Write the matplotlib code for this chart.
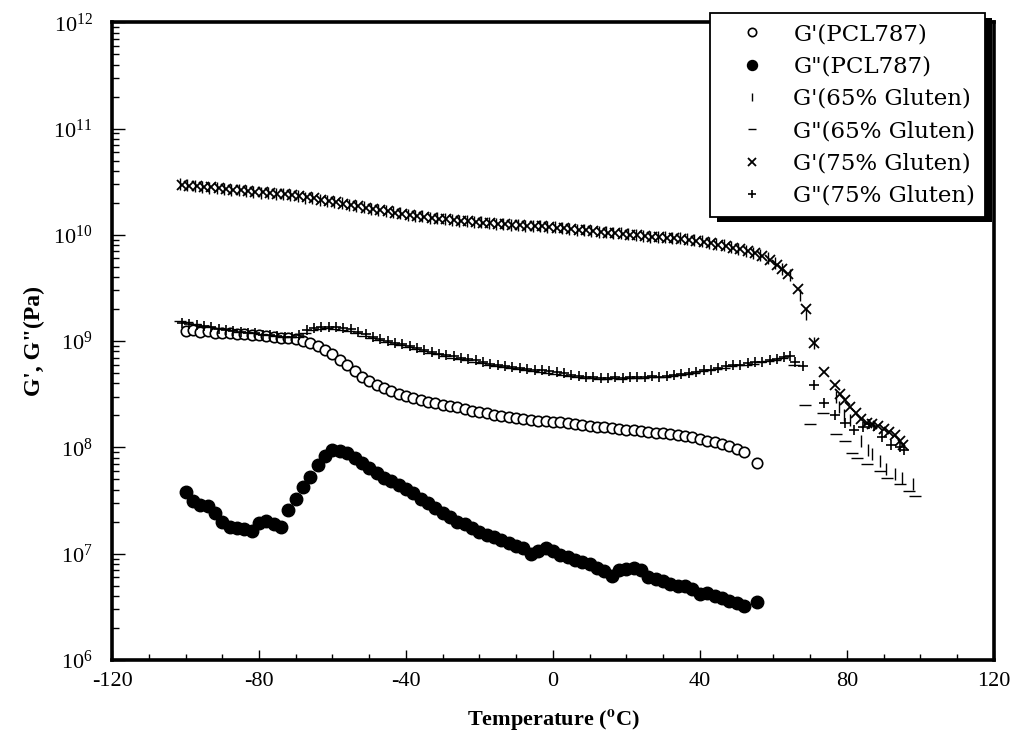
import matplotlib
matplotlib.use("Agg")
import matplotlib.pyplot as plt
from matplotlib.ticker import MultipleLocator, LogLocator, NullFormatter, FixedLocator
from matplotlib.patches import Rectangle
from matplotlib.transforms import IdentityTransform

plt.rcParams['font.family'] = ['Liberation Serif', 'DejaVu Serif']
plt.rcParams['mathtext.fontset'] = 'stix'
plt.rcParams['axes.unicode_minus'] = False

# ---------------- data ----------------
t_pcl_g1 = [-100, -98, -96, -94, -92, -90, -88, -86, -84, -82, -80, -78, -76, -74, -72, -70,
            -68, -66, -64, -62, -60, -58, -56, -54, -52, -50, -48, -46, -44, -42, -40, -38,
            -36, -34, -32, -30, -28, -26, -24, -22, -20, -18, -16, -14, -12, -10, -8, -6,
            -4, -2, 0, 2, 4, 6, 8, 10, 12, 14, 16, 18, 20, 22, 24, 26, 28, 30, 32, 34, 36,
            38, 40, 42, 44, 46, 48, 50, 52, 55.5]
g1_pcl = [1.25e9, 1.28e9, 1.22e9, 1.24e9, 1.20e9, 1.20e9, 1.18e9, 1.17e9, 1.16e9, 1.15e9,
          1.13e9, 1.12e9, 1.10e9, 1.08e9, 1.06e9, 1.04e9, 1.00e9, 9.6e8, 9.0e8, 8.3e8, 7.5e8,
          6.7e8, 5.9e8, 5.2e8, 4.6e8, 4.2e8, 3.9e8, 3.6e8, 3.4e8, 3.2e8, 3.05e8, 2.9e8, 2.8e8,
          2.7e8, 2.6e8, 2.5e8, 2.45e8, 2.4e8, 2.3e8, 2.22e8, 2.15e8, 2.1e8, 2.03e8, 1.97e8,
          1.92e8, 1.88e8, 1.84e8, 1.81e8, 1.79e8, 1.77e8, 1.75e8, 1.72e8, 1.69e8, 1.66e8,
          1.63e8, 1.6e8, 1.57e8, 1.54e8, 1.51e8, 1.49e8, 1.47e8, 1.45e8, 1.43e8, 1.41e8,
          1.38e8, 1.36e8, 1.33e8, 1.3e8, 1.27e8, 1.24e8, 1.2e8, 1.16e8, 1.12e8, 1.07e8,
          1.02e8, 9.6e7, 9.0e7, 7.2e7]

t_pcl_g2 = [-100, -98, -96, -94, -92, -90, -88, -86, -84, -82, -80, -78, -76, -74, -72, -70,
            -68, -66, -64, -62, -60, -58, -56, -54, -52, -50, -48, -46, -44, -42, -40, -38,
            -36, -34, -32, -30, -28, -26, -24, -22, -20, -18, -16, -14, -12, -10, -8, -6,
            -4, -2, 0, 2, 4, 6, 8, 10, 12, 14, 16, 18, 20, 22, 24, 26, 28, 30, 32, 34, 36,
            38, 40, 42, 44, 46, 48, 50, 52, 55.5]
g2_pcl = [3.8e7, 3.1e7, 2.9e7, 2.8e7, 2.4e7, 2.0e7, 1.8e7, 1.75e7, 1.7e7, 1.65e7, 1.95e7,
          2.05e7, 1.9e7, 1.8e7, 2.6e7, 3.3e7, 4.2e7, 5.3e7, 6.8e7, 8.3e7, 9.5e7, 9.2e7, 8.8e7,
          8.0e7, 7.2e7, 6.4e7, 5.8e7, 5.2e7, 4.8e7, 4.4e7, 4.1e7, 3.7e7, 3.3e7, 3.0e7, 2.7e7,
          2.4e7, 2.2e7, 2.0e7, 1.9e7, 1.75e7, 1.6e7, 1.5e7, 1.45e7, 1.35e7, 1.25e7, 1.18e7,
          1.12e7, 1.0e7, 1.05e7, 1.12e7, 1.05e7, 9.8e6, 9.3e6, 8.8e6, 8.4e6, 8.0e6, 7.4e6,
          6.8e6, 6.2e6, 7.0e6, 7.1e6, 7.3e6, 7.0e6, 6.0e6, 5.8e6, 5.5e6, 5.2e6, 5.0e6, 5.0e6,
          4.6e6, 4.2e6, 4.3e6, 4.0e6, 3.8e6, 3.6e6, 3.4e6, 3.2e6, 3.5e6]

t_g1_75 = [-101, -99, -97, -95, -93, -91, -89, -87, -85, -83, -81, -79, -77, -75, -73, -71,
           -69, -67, -65, -63, -61, -59, -57, -55, -53, -51, -49, -47, -45, -43, -41, -39,
           -37, -35, -33, -31, -29, -27, -25, -23, -21, -19, -17, -15, -13, -11, -9, -7, -5,
           -3, -1, 1, 3, 5, 7, 9, 11, 13, 15, 17, 19, 21, 23, 25, 27, 29, 31, 33, 35, 37, 39,
           41, 43, 45, 47, 49, 51, 53, 55, 57, 59, 61, 62.5, 64, 66.6, 69, 71, 73.7, 76.7,
           78.2, 79.5, 81, 82.6, 84, 85.5, 87, 88.5, 90, 91.5, 93, 94.5, 95.3]
g1_75 = [2.95e10, 2.9e10, 2.88e10, 2.83e10, 2.8e10, 2.75e10, 2.7e10, 2.67e10, 2.62e10, 2.6e10,
         2.55e10, 2.52e10, 2.48e10, 2.45e10, 2.42e10, 2.35e10, 2.3e10, 2.25e10, 2.2e10, 2.15e10,
         2.1e10, 2.03e10, 1.97e10, 1.92e10, 1.86e10, 1.8e10, 1.75e10, 1.7e10, 1.66e10, 1.62e10,
         1.58e10, 1.55e10, 1.52e10, 1.48e10, 1.45e10, 1.42e10, 1.4e10, 1.38e10, 1.36e10,
         1.34e10, 1.32e10, 1.3e10, 1.28e10, 1.27e10, 1.26e10, 1.24e10, 1.23e10, 1.22e10,
         1.21e10, 1.2e10, 1.19e10, 1.17e10, 1.15e10, 1.13e10, 1.12e10, 1.1e10, 1.08e10,
         1.07e10, 1.05e10, 1.04e10, 1.02e10, 1.0e10, 9.9e9, 9.7e9, 9.6e9, 9.5e9, 9.4e9, 9.3e9,
         9.2e9, 9.0e9, 8.8e9, 8.6e9, 8.3e9, 8.1e9, 7.9e9, 7.6e9, 7.3e9, 7.0e9, 6.7e9, 6.3e9,
         5.8e9, 5.2e9, 4.8e9, 4.3e9, 3.1e9, 2.0e9, 9.6e8, 5.1e8, 3.9e8, 3.2e8, 2.8e8, 2.4e8,
         2.1e8, 1.85e8, 1.7e8, 1.65e8, 1.6e8, 1.5e8, 1.4e8, 1.3e8, 1.15e8, 1.05e8]

t_g1_65 = [-101.5, -99.5, -97.5, -95.5, -93.5, -91.5, -89.5, -87.5, -85.5, -83.5, -81.5, -79.5,
           -77.5, -75.5, -73.5, -71.5, -69.5, -67.5, -65.5, -63.5, -61.5, -59.5, -57.5, -55.5,
           -53.5, -51.5, -49.5, -47.5, -45.5, -43.5, -41.5, -39.5, -37.5, -35.5, -33.5, -31.5,
           -29.5, -27.5, -25.5, -23.5, -21.5, -19.5, -17.5, -15.5, -13.5, -11.5, -9.5, -7.5,
           -5.5, -3.5, -1.5, 0.5, 2.5, 4.5, 6.5, 8.5, 10.5, 12.5, 14.5, 16.5, 18.5, 20.5, 22.5,
           24.5, 26.5, 28.5, 30.5, 32.5, 34.5, 36.5, 38.5, 40.5, 42.5, 44.5, 46.5, 48.5, 50.5,
           52.5, 54.5, 56.5, 58.5, 60.5, 62.5, 64.5, 67.2, 69, 71, 77, 78, 79.2, 81, 84, 85.7,
           87, 89, 90.8, 93, 95, 98]
g1_65 = [3.0e10, 2.92e10, 2.86e10, 2.85e10, 2.78e10, 2.76e10, 2.69e10, 2.66e10, 2.63e10,
         2.58e10, 2.55e10, 2.5e10, 2.49e10, 2.44e10, 2.4e10, 2.36e10, 2.31e10, 2.24e10,
         2.21e10, 2.14e10, 2.1e10, 2.04e10, 1.98e10, 1.91e10, 1.87e10, 1.81e10, 1.76e10,
         1.71e10, 1.66e10, 1.63e10, 1.59e10, 1.55e10, 1.51e10, 1.49e10, 1.45e10, 1.43e10,
         1.4e10, 1.39e10, 1.36e10, 1.35e10, 1.32e10, 1.31e10, 1.29e10, 1.27e10, 1.26e10,
         1.25e10, 1.23e10, 1.22e10, 1.21e10, 1.2e10, 1.19e10, 1.18e10, 1.16e10, 1.14e10,
         1.12e10, 1.11e10, 1.09e10, 1.07e10, 1.06e10, 1.04e10, 1.03e10, 1.01e10, 9.9e9,
         9.8e9, 9.6e9, 9.5e9, 9.45e9, 9.3e9, 9.25e9, 9.1e9, 8.9e9, 8.7e9, 8.4e9, 8.2e9,
         8.0e9, 7.7e9, 7.4e9, 7.1e9, 6.8e9, 6.4e9, 6.0e9, 5.4e9, 4.8e9, 4.2e9, 2.7e9, 1.8e9,
         9.6e8, 3.0e8, 2.4e8, 2.0e8, 1.8e8, 1.15e8, 9.4e7, 8.7e7, 7.4e7, 6.3e7, 5.6e7, 5.2e7,
         4.5e7]

t_g2_65 = [-101.5, -99.5, -97.5, -95.5, -93.5, -91.5, -89.5, -87.5, -85.5, -83.5, -81.5, -79.5,
           -77.5, -75.5, -73.5, -71.5, -69.5, -67.5, -65.5, -63.5, -61.5, -59.5, -57.5, -55.5,
           -53.5, -51.5, -49.5, -47.5, -45.5, -43.5, -41.5, -39.5, -37.5, -35.5, -33.5, -31.5,
           -29.5, -27.5, -25.5, -23.5, -21.5, -19.5, -17.5, -15.5, -13.5, -11.5, -9.5, -7.5,
           -5.5, -3.5, -1.5, 0.5, 2.5, 4.5, 6.5, 8.5, 10.5, 12.5, 14.5, 16.5, 18.5, 20.5, 22.5,
           24.5, 26.5, 28.5, 30.5, 32.5, 34.5, 36.5, 38.5, 40.5, 42.5, 44.5, 46.5, 48.5, 50.5,
           52.5, 54.5, 56.5, 58.5, 60.5, 62.5, 65.5, 68.5, 70, 73.5, 77, 79.5, 81.3, 82.7,
           85.4, 89, 91, 94.4, 97, 98.5]
g2_65 = [1.55e9, 1.5e9, 1.46e9, 1.4e9, 1.37e9, 1.33e9, 1.3e9, 1.26e9, 1.23e9, 1.21e9,
         1.19e9, 1.16e9, 1.14e9, 1.12e9, 1.1e9, 1.09e9, 1.1e9, 1.2e9, 1.27e9, 1.3e9, 1.32e9,
         1.3e9, 1.28e9, 1.24e9, 1.18e9, 1.12e9, 1.06e9, 1.02e9, 9.8e8, 9.4e8, 9.1e8, 8.8e8,
         8.4e8, 8.0e8, 7.7e8, 7.5e8, 7.3e8, 7.0e8, 6.8e8, 6.6e8, 6.4e8, 6.2e8, 6.0e8, 5.8e8,
         5.7e8, 5.6e8, 5.5e8, 5.3e8, 5.2e8, 5.1e8, 5.0e8, 4.9e8, 4.8e8, 4.65e8, 4.6e8, 4.5e8,
         4.45e8, 4.4e8, 4.4e8, 4.45e8, 4.4e8, 4.5e8, 4.45e8, 4.5e8, 4.6e8, 4.55e8, 4.6e8,
         4.7e8, 4.8e8, 4.9e8, 5.0e8, 5.2e8, 5.3e8, 5.5e8, 5.6e8, 5.8e8, 5.9e8, 6.0e8, 6.1e8,
         6.3e8, 6.5e8, 6.7e8, 7.0e8, 6.0e8, 2.5e8, 1.66e8, 2.1e8, 1.35e8, 1.15e8, 8.9e7,
         8.0e7, 7.0e7, 6.0e7, 5.2e7, 4.5e7, 3.9e7, 3.5e7]

t_g2_75 = [-101, -99, -97, -95, -93, -91, -89, -87, -85, -83, -81, -79, -77, -75, -73, -71,
           -69, -67, -65, -63, -61, -59, -57, -55, -53, -51, -49, -47, -45, -43, -41, -39,
           -37, -35, -33, -31, -29, -27, -25, -23, -21, -19, -17, -15, -13, -11, -9, -7, -5,
           -3, -1, 1, 3, 5, 7, 9, 11, 13, 15, 17, 19, 21, 23, 25, 27, 29, 31, 33, 35, 37, 39,
           41, 43, 45, 47, 49, 51, 53, 55, 57, 59, 61, 63, 64.5, 66, 68, 71, 73.7, 76.7, 79.5,
           82, 84.5, 86, 87.5, 89.5, 92, 94.5, 95.5]
g2_75 = [1.48e9, 1.45e9, 1.42e9, 1.38e9, 1.35e9, 1.3e9, 1.27e9, 1.25e9, 1.22e9, 1.2e9,
         1.18e9, 1.15e9, 1.13e9, 1.12e9, 1.1e9, 1.1e9, 1.15e9, 1.28e9, 1.33e9, 1.35e9, 1.36e9,
         1.35e9, 1.33e9, 1.3e9, 1.22e9, 1.17e9, 1.1e9, 1.05e9, 1.0e9, 9.7e8, 9.4e8, 9.0e8,
         8.6e8, 8.2e8, 7.9e8, 7.6e8, 7.4e8, 7.2e8, 7.0e8, 6.8e8, 6.6e8, 6.3e8, 6.1e8, 5.9e8,
         5.8e8, 5.7e8, 5.6e8, 5.5e8, 5.4e8, 5.3e8, 5.2e8, 5.1e8, 5.0e8, 4.8e8, 4.7e8, 4.6e8,
         4.55e8, 4.5e8, 4.5e8, 4.55e8, 4.5e8, 4.6e8, 4.55e8, 4.6e8, 4.7e8, 4.6e8, 4.7e8,
         4.8e8, 4.9e8, 5.0e8, 5.1e8, 5.3e8, 5.4e8, 5.6e8, 5.8e8, 5.9e8, 6.0e8, 6.2e8, 6.3e8,
         6.4e8, 6.6e8, 6.8e8, 7.1e8, 7.3e8, 6.4e8, 5.8e8, 3.9e8, 2.6e8, 2.0e8, 1.7e8,
         1.45e8, 1.55e8, 1.65e8, 1.6e8, 1.25e8, 1.05e8, 1.0e8, 9.5e7]

labels = ["G'(PCL787)", 'G"(PCL787)', "G'(65% Gluten)", 'G"(65% Gluten)',
          "G'(75% Gluten)", 'G"(75% Gluten)']
x_ticks = [-120, -80, -40, 0, 40, 80, 120]

# ---------------- figure ----------------
fig = plt.figure(figsize=(10.14, 7.44), dpi=100)
ax = fig.add_axes([0.1105, 0.113, 0.8695, 0.857])
ax.patch.set_visible(False)

h1, = ax.plot(t_pcl_g1, g1_pcl, ls='none', marker='o', ms=7.5, mfc='white', mec='black',
              mew=1.2, label=labels[0])
h2, = ax.plot(t_pcl_g2, g2_pcl, ls='none', marker='o', ms=9, mfc='black', mec='black',
              label=labels[1])
h3, = ax.plot(t_g1_65, g1_65, ls='none', marker='|', ms=8, mec='black', mew=1.0,
              label=labels[2])
h4, = ax.plot(t_g2_65, g2_65, ls='none', marker='_', ms=8, mec='black', mew=1.0,
              label=labels[3])
h5, = ax.plot(t_g1_75, g1_75, ls='none', marker='x', ms=6.5, mec='black', mew=1.3,
              label=labels[4])
h6, = ax.plot(t_g2_75, g2_75, ls='none', marker='+', ms=7, mec='black', mew=1.2,
              label=labels[5])

ax.set_yscale('log')
ax.set_xlim(-120, 120)
ax.set_ylim(1e6, 1e12)
ax.xaxis.set_major_locator(FixedLocator(x_ticks))
ax.xaxis.set_minor_locator(MultipleLocator(10))
ax.yaxis.set_major_locator(LogLocator(base=10, numticks=10))
ax.yaxis.set_minor_locator(LogLocator(base=10, subs=[2, 3, 4, 5, 6, 7, 8, 9], numticks=20))
ax.yaxis.set_minor_formatter(NullFormatter())

ax.tick_params(which='both', direction='in', top=False, right=False, width=1.0)
ax.tick_params(axis='y', which='major', length=9, pad=14, labelsize=16)
ax.tick_params(axis='y', which='minor', length=5)
ax.tick_params(axis='x', which='major', length=7, pad=9, labelsize=16)
ax.tick_params(axis='x', which='minor', length=4)

for s in ax.spines.values():
    s.set_linewidth(2.6)

ax.set_xlabel(r'Temperature ($^{\mathbf{o}}$C)', fontsize=16, fontweight='bold', labelpad=12)
ax.set_ylabel('G\', G"(Pa)', fontsize=17, fontweight='bold', labelpad=6)

leg = ax.legend(handles=[h1, h2, h3, h4, h5, h6], loc='upper left',
                bbox_to_anchor=(0.700, 0.707, 0.271, 0.2755), bbox_transform=fig.transFigure,
                mode='expand', borderaxespad=0, fancybox=False, framealpha=1,
                edgecolor='black', prop={'family': 'DejaVu Serif', 'size': 16.5},
                labelspacing=0.45, handlelength=2.8, handletextpad=0.4, borderpad=0.45,
                markerscale=0.8)
leg.get_frame().set_linewidth(1.3)
leg.set_zorder(10)

fig.canvas.draw()
bb = leg.get_window_extent(fig.canvas.get_renderer())
shadow = Rectangle((bb.x0 + 7, bb.y0 - 5), bb.width, bb.height, transform=IdentityTransform(),
                   facecolor='black', edgecolor='none', zorder=9.9)
ax.add_artist(shadow)
shadow.set_clip_on(False)

fig.savefig('out.png', dpi=100)
